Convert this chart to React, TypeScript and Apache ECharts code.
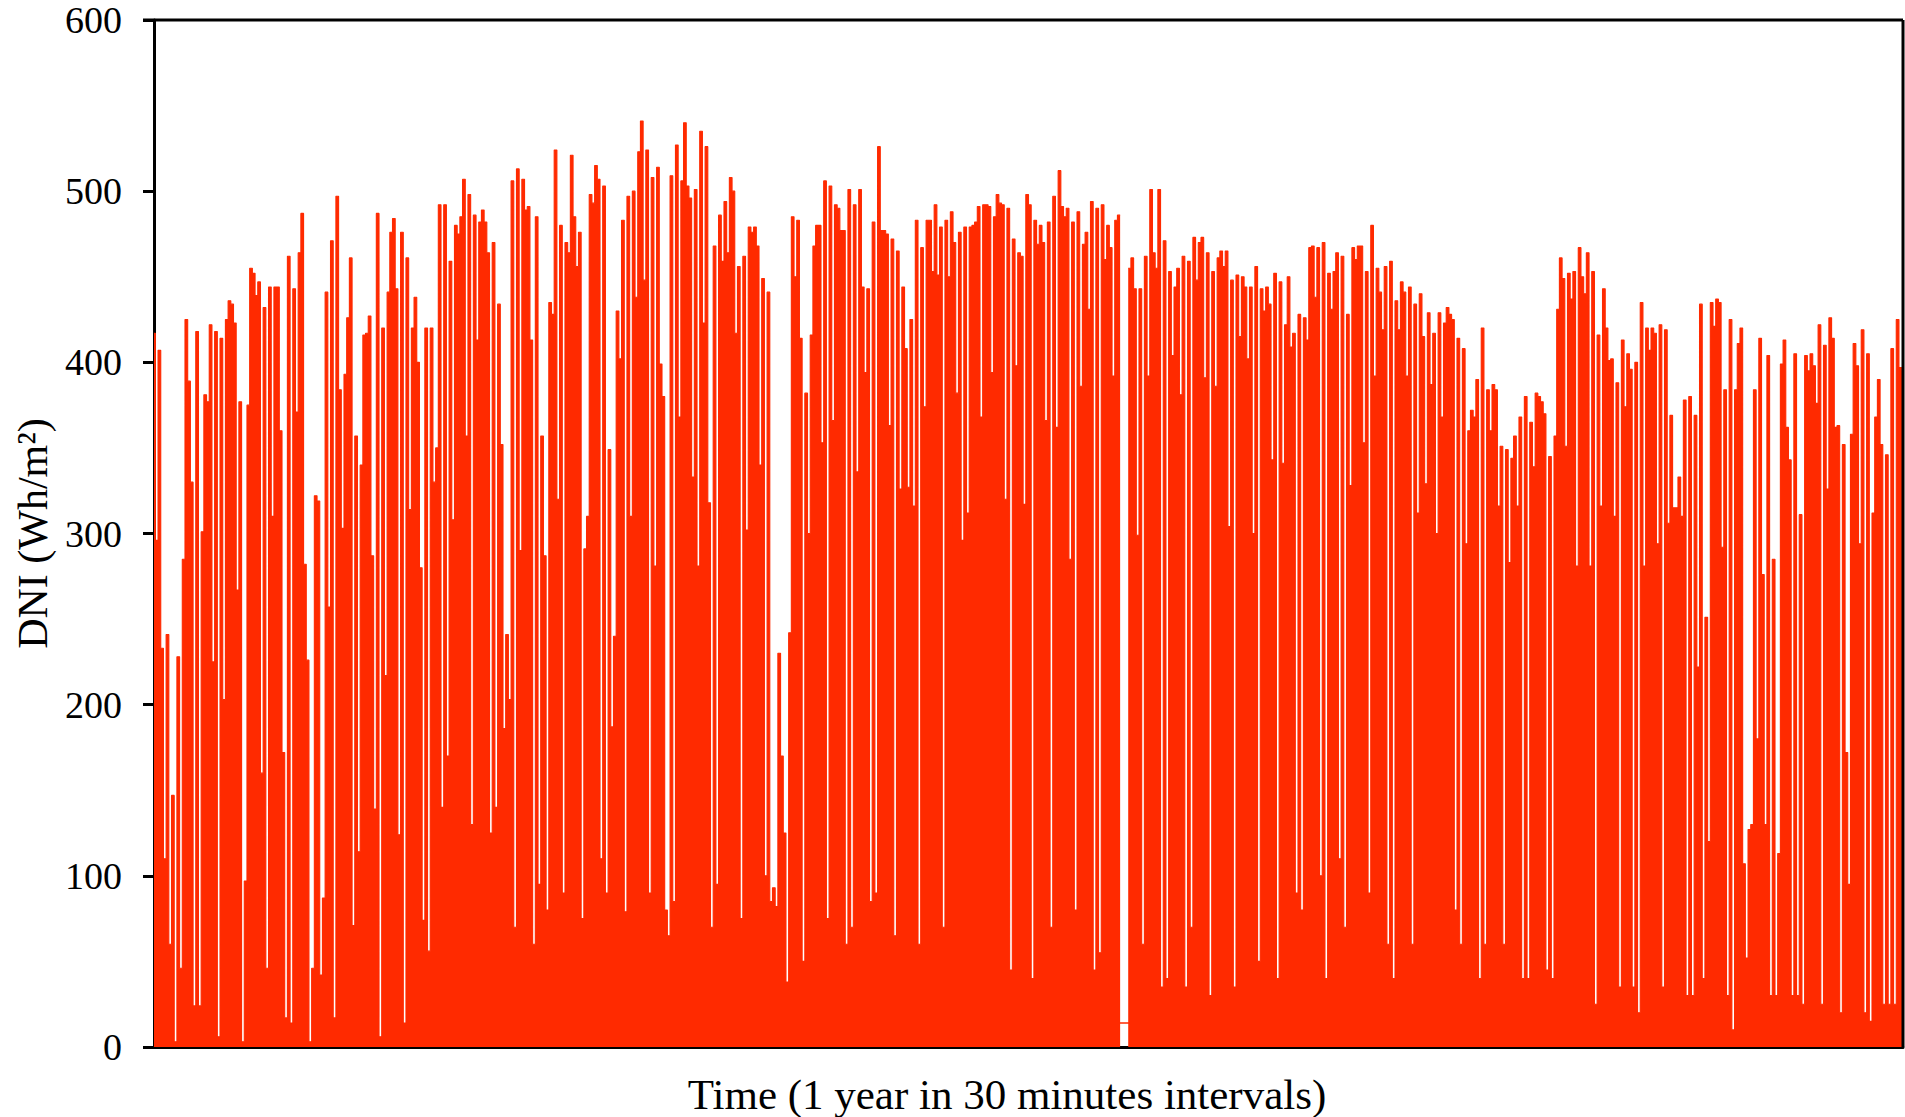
import React, { useEffect, useRef } from "react";
import * as echarts from "echarts";

const dniA = [417,296,407,233,110,241,60,147,3,228,46,285,425,389,330,24,418,24,301,381,377,422,225,418,6,414,203,425,436,434,423,267,377,3,97,375,455,452,439,447,160,432,46,444,310,444,444,360,172,17,462,14,443,371,464,487,282,226,3,46,322,319,42,87,441,257,471,17,497,384,303,393,426,461,71,357,114,340,416,417,427,287,139,487,6,420,217,441,476,484,443,124,476,14,461,314,420,438,400,280,74,420,56,420,330,350,492];
const dniB = [140,492,170,459,308,480,475,485,507,357,498,130,486,413,482,489,482,464,125,470,140,434,352,186,241,203,506,70,513,290,507,489,491,413,60,485,95,357,287,80,435,428,524,320,480,90,470,464,521,485,456,476,75,291,310,498];
const dniC = [493,515,507,110,503,90,349,187,240,430,402,483,79,497,310,500,438,523,541,448,524,90,508,281,514,399,380,80,65,509,85,527,368,506,540,503,496,333,501,281,535,423,526,318,70,468,95,486,459,494,464,508,500,417,456,75,462,302,479,476,479,468,340,449,100,441,85,93,82,230,170,125,38,242,485,450,483,414,50,382,300];
const dniD = [416,468,480,480,353,506,75,503,366,492,490,477,477,60,501,70,492,336,501,444,394,443,85,482,90,526,477,477,475,363,472,65,465,326,444,408,327,425,316,483,60,467,374,483,483,453,492,451,479,70,483,450,488,470,382,476,296,479,312,479,480,482,491,368,492,492,491,394,485,498,493,492,320,490,45,472,398,464,462,317,498];
const dniE = [492,40,483,469,480,470,366,482,70,497,362,512,491,485,490,285,482,80,488,386,469,476,431,494,45,490,55,492,460,480,467,392,483,486,null,null,null,455,461,443,299,443,60,462,392,501,464,455,501,35,471,40,453,404,444,455,381,462,35,459,70,473,448,470,473,391,464,30,453,386,461,465,456,465,304,448,35,451,415,450,444];
const dniF = [402,444,300,456,50,443,430,444,434,343,452,40,447,341,422,450,409,417,90,428,80,426,413,467,468,438,467,100,470,40,452,431,453,464,110,462,70,428,328,467,460,468,468,353,453,90,480,392,455,441,419,456,60,459,40,436,419,447,441,392,444,60,434,312,440,415,329,429,387,417,300,429,368,423,432,428,425,80,414,60,408,294,360];
const dniG = [372,368,390,40,420,60,384,360,387,384,316,351,60,349,283,344,357,316,368,40,380,40,365,339,382,380,377,370,45,345,40,357,431,461,449,351,452,437,453,281,467,450,440,464,281,453,25,416,316,443,420,401,402,310,388,35,413,374,405,396,35,400,20,435,281,420,407,420,417,294,422,35,419,306,369,315,315,333,310,378,30,380];
const dniH = [30,369,222,434,40,251,120,435,421,437,435,292,384,30,425,10,384,411,420,107,52,127,130,384,180,414,276,130,404,30,285,30,113,399,413,362,343,30,405,30,311,25,404,395,405,398,376,422,25,410,326,426,414,362,363,20,352,172,95,358,411,398,294,419,20,405,15,312,368,390,352,25,346,25,408,25,425,397,395];
const dni = [...dniA, ...dniB, ...dniC, ...dniD, ...dniE, ...dniF, ...dniG, ...dniH];
const gapLevel = [14, 14, 14, 14, 14];
const yTicks = [0, 100, 200, 300, 400, 500, 600];
const xLabel = "Time (1 year in 30 minutes intervals)";
const yLabel = "DNI (Wh/m\u00B2)";

const SERIF = '"Liberation Serif", "Times New Roman", serif';
const RED = "#ff2a00";

export default function App() {
  const ref = useRef<HTMLDivElement>(null);
  useEffect(() => {
    const chart = echarts.init(ref.current!, undefined, { renderer: "svg" });
    const gapStart = dni.indexOf(null as any) - 1;
    const gapSeries = dni.map((_, i) =>
      i >= gapStart && i < gapStart + gapLevel.length ? gapLevel[i - gapStart] : null
    );
    chart.setOption({
      animation: false,
      backgroundColor: "#fff",
      grid: { left: 154, right: 2, top: 20, bottom: 70, show: false, outerBoundsMode: "none" },
      xAxis: {
        type: "category",
        data: dni.map((_, i) => String(i)),
        boundaryGap: false,
        axisLine: { show: true, lineStyle: { color: "#000", width: 3 } },
        axisTick: { show: false },
        axisLabel: { show: false },
        splitLine: { show: false },
      },
      yAxis: {
        type: "value",
        min: 0,
        max: 600,
        interval: 100,
        name: yLabel,
        nameLocation: "middle",
        nameGap: 97,
        nameTextStyle: { fontFamily: SERIF, fontSize: 42, color: "#000" },
        axisLine: { show: true, lineStyle: { color: "#000", width: 3 } },
        axisTick: { show: true, length: 11, lineStyle: { color: "#000", width: 3 } },
        axisLabel: {
          fontFamily: SERIF,
          fontSize: 38,
          color: "#000",
          margin: 32,
          formatter: (v: number) => (yTicks.includes(v) ? String(v) : ""),
        },
        splitLine: { show: false },
      },
      graphic: [
        {
          type: "text",
          x: 1007,
          y: 1094,
          style: {
            text: xLabel,
            fontFamily: SERIF,
            fontSize: 43,
            fill: "#000",
            textAlign: "center",
            textVerticalAlign: "middle",
          },
        },
        {
          type: "line",
          shape: { x1: 143, y1: 20, x2: 1903, y2: 20 },
          style: { stroke: "#000", lineWidth: 3 },
          z: 10,
        },
        {
          type: "line",
          shape: { x1: 1903, y1: 20, x2: 1903, y2: 1047 },
          style: { stroke: "#000", lineWidth: 3 },
          z: 10,
        },
      ],
      series: [
        {
          type: "line",
          data: dni,
          step: "middle",
          symbol: "none",
          showSymbol: false,
          lineStyle: { color: RED, width: 1.1 },
          areaStyle: { color: RED, opacity: 1 },
          z: 2,
        },
        {
          type: "line",
          data: gapSeries,
          symbol: "none",
          showSymbol: false,
          lineStyle: { color: RED, width: 1.5 },
          z: 2,
        },
      ],
    });
    return () => chart.dispose();
  }, []);
  return (
    <div
      ref={ref}
      style={{ position: "fixed", left: 0, top: 0, width: 1905, height: 1117, background: "#fff" }}
    />
  );
}
